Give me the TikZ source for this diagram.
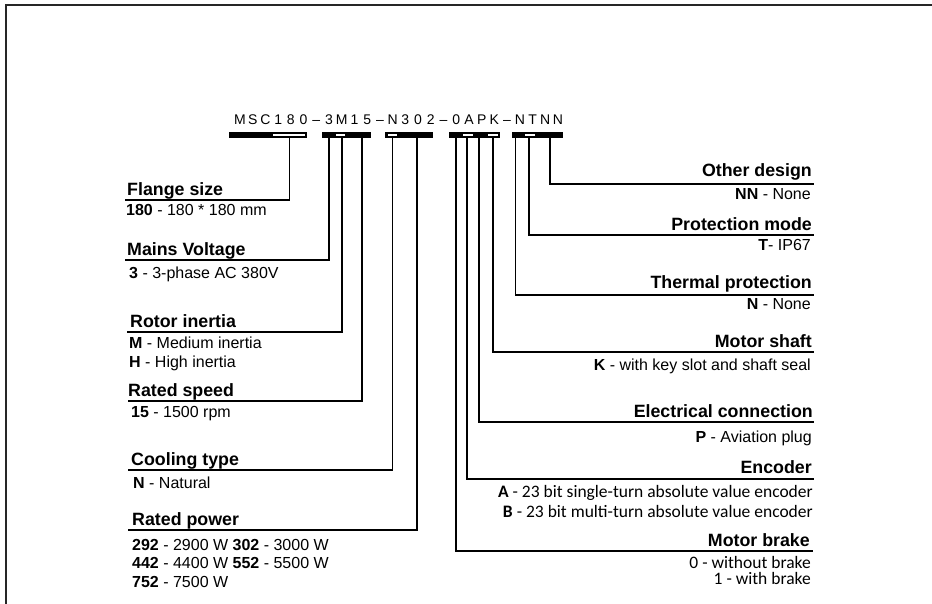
\documentclass[tikz,border=0pt]{standalone}
\usepackage{fontspec}
\setmainfont{Liberation Sans}
\newfontfamily\calfont{Carlito}
\begin{document}
\begin{tikzpicture}[x=1pt,y=-1pt,
  ttl/.style={inner sep=0pt,anchor=base west,font=\fontsize{17.8}{20}\selectfont\bfseries},
  ttlr/.style={ttl,anchor=base east},
  dsc/.style={inner sep=0pt,anchor=base west,font=\fontsize{16}{18}\selectfont},
  dscr/.style={dsc,anchor=base east},
  calr/.style={inner sep=0pt,anchor=base east,font=\fontsize{17.5}{19}\selectfont\calfont},
  codech/.style={inner sep=0pt,anchor=base,font=\fontsize{14}{16}\selectfont},
  conn/.style={line width=1.7pt,line cap=butt},
  barblk/.style={fill=black},
  barwht/.style={fill=white}]
\useasboundingbox (0,0) rectangle (932,604);
% frame
\coordinate (fbl) at (6,604);
\coordinate (ftl) at (6,5);
\coordinate (ftr) at (932,5);
\draw[line width=1.6pt,black!85] (fbl) -- (ftl) -- (ftr);
% code text
\foreach \c [count=\i from 0] in {M,S,C,1,8,0,–,3,M,1,5,–,N,3,0,2,–,0,A,P,K,–,N,T,N,N}
  \node[codech] (ch\i) at ({240+12.72*\i},125) {\c};
% bars
\fill[barblk] (229,132) rectangle (307,138);
\fill[barwht] (273,133.6) rectangle (305,136.4);
\fill[barblk] (322,132) rectangle (371,138);
\fill[barwht] (336,133.6) rectangle (345,136.4);
\fill[barblk] (385,132) rectangle (433,138);
\fill[barwht] (388,133.6) rectangle (397,136.4);
\fill[barblk] (449,132) rectangle (500,138);
\fill[barwht] (463,133.6) rectangle (473,136.4);
\fill[barwht] (488,133.6) rectangle (498,136.4);
\fill[barblk] (512,132) rectangle (563,138);
\fill[barwht] (525,133.6) rectangle (535,136.4);
% taps
\coordinate (t-fl) at (289.5,138);
\coordinate (t-mv) at (329,138);
\coordinate (t-ri) at (342,138);
\coordinate (t-rs) at (362,138);
\coordinate (t-ct) at (392.5,138);
\coordinate (t-rp) at (417,138);
\coordinate (t-mb) at (456,138);
\coordinate (t-en) at (467,138);
\coordinate (t-ec) at (479,138);
\coordinate (t-ms) at (493,138);
\coordinate (t-tp) at (515.5,138);
\coordinate (t-pm) at (529,138);
\coordinate (t-od) at (550,138);
% line ends
\coordinate (e-fl) at (125,200);
\coordinate (e-mv) at (125,260);
\coordinate (e-ri) at (127,332);
\coordinate (e-rs) at (128,401);
\coordinate (e-ct) at (128,470);
\coordinate (e-rp) at (128,530);
\coordinate (e-od) at (814,184);
\coordinate (e-pm) at (814,235);
\coordinate (e-tp) at (814,295);
\coordinate (e-ms) at (814,352);
\coordinate (e-ec) at (814,422);
\coordinate (e-en) at (814,479);
\coordinate (e-mb) at (813,551);
% connectors
\foreach \k in {fl,mv,ri,rs,ct,rp,od,pm,tp,ms,ec,en,mb}
  \draw[conn] (t-\k) |- (e-\k);
% left titles
\node[ttl] (n-fl) at (127,196) {Flange size};
\node[ttl] (n-mv) at (127,256) {Mains Voltage};
\node[ttl] (n-ri) at (130,327) {Rotor inertia};
\node[ttl] (n-rs) at (128,396) {Rated speed};
\node[ttl] (n-ct) at (131,465) {Cooling type};
\node[ttl] (n-rp) at (132,525) {Rated power};
% left descriptions
\node[dsc] (d-fl) at (126,216) {\textbf{180} - 180 * 180 mm};
\node[dsc] (d-mv) at (129,278) {\textbf{3} - 3-phase AC 380V};
\node[dsc] (d-ri1) at (129,348) {\textbf{M} - Medium inertia};
\node[dsc] (d-ri2) at (129,367) {\textbf{H} - High inertia};
\node[dsc] (d-rs) at (131,417) {\textbf{15} - 1500 rpm};
\node[dsc] (d-ct) at (133,488) {\textbf{N} - Natural};
\node[dsc] (d-rp1) at (132,550) {\textbf{292} - 2900 W \textbf{302} - 3000 W};
\node[dsc] (d-rp2) at (132,568) {\textbf{442} - 4400 W \textbf{552} - 5500 W};
\node[dsc] (d-rp3) at (132,587) {\textbf{752} - 7500 W};
% right titles
\node[ttlr] (n-od) at (812,177) {Other design};
\node[ttlr] (n-pm) at (812,231) {Protection mode};
\node[ttlr] (n-tp) at (812,288) {Thermal protection};
\node[ttlr] (n-ms) at (812,347) {Motor shaft};
\node[ttlr] (n-ec) at (813,417) {Electrical connection};
\node[ttlr] (n-en) at (812,473) {Encoder};
\node[ttlr] (n-mb) at (810,546) {Motor brake};
% right descriptions
\node[dscr] (d-od) at (811,200) {\textbf{NN} - None};
\node[dscr] (d-pm) at (811,251) {\textbf{T}- IP67};
\node[dscr] (d-tp) at (811,309) {\textbf{N} - None};
\node[dscr] (d-ms) at (811,370) {\textbf{K} - with key slot and shaft seal};
\node[dscr] (d-ec) at (812,442) {\textbf{P} - Aviation plug};
\node[calr] (d-en1) at (813,497) {\textbf{A} - 23 bit single-turn absolute value encoder};
\node[calr] (d-en2) at (813,517) {\textbf{B} - 23 bit multi-turn absolute value encoder};
\node[calr] (d-mb1) at (811,568) {0 - without brake};
\node[calr] (d-mb2) at (811,584) {1 - with brake};
\end{tikzpicture}
\end{document}
